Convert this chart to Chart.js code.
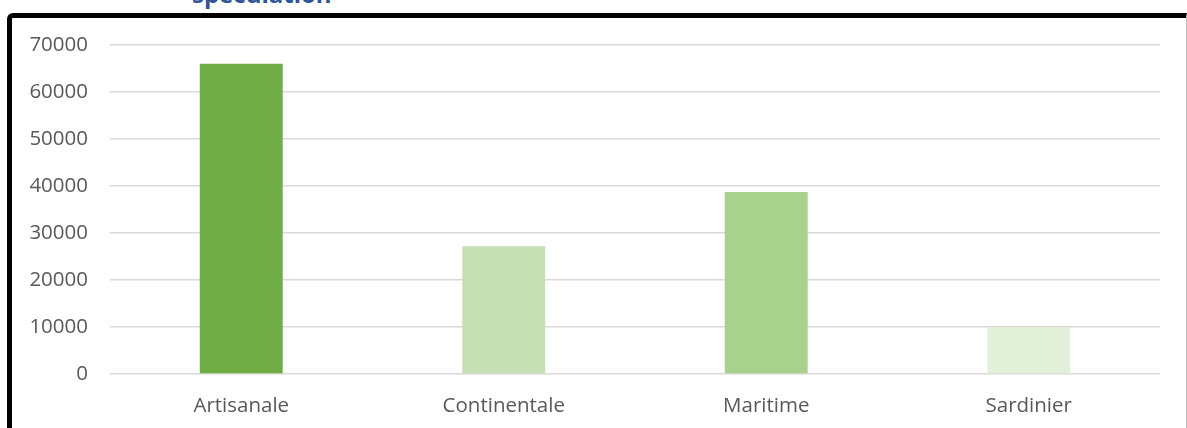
<!DOCTYPE html>
<html lang="fr">
<head>
  <meta charset="UTF-8">
  <title>Production par spéculation</title>
  <script src="https://cdn.jsdelivr.net/npm/chart.js"></script>
  <style>
    html, body {
      margin: 0;
      padding: 0;
      background: #fff;
      overflow: hidden;
    }
    .wrap {
      position: relative;
      width: 1187px;
      height: 428px;
    }
    .frame {
      position: absolute;
      left: 7px;
      top: 13px;
      width: 1174px;
      height: 430px;
      border-left: 5px solid #000;
      border-top: 5px solid #000;
      border-right: 1px solid #bfbfbf;
      border-top-left-radius: 6px;
      box-sizing: content-box;
    }
    .title {
      position: absolute;
      left: 192px;
      top: -18px;
      font-family: "Open Sans", sans-serif;
      font-weight: bold;
      font-size: 24px;
      line-height: 24px;
      color: #2f5597;
      white-space: nowrap;
    }
    canvas {
      position: absolute;
      left: 0;
      top: 0;
    }
  </style>
</head>
<body>
  <div class="wrap">
    <div class="frame"></div>
    <div class="title">spéculation</div>
    <canvas id="chart" width="1187" height="428"></canvas>
  </div>

  <script>
    const categories = ['Artisanale', 'Continentale', 'Maritime', 'Sardinier'];
    const values = [66000, 27200, 38700, 10000];
    const barColors = ['#70ad47', '#c5e0b4', '#a9d18e', '#e2f0d9'];

    const ctx = document.getElementById('chart').getContext('2d');

    new Chart(ctx, {
      type: 'bar',
      data: {
        labels: categories,
        datasets: [{
          data: values,
          backgroundColor: barColors,
          borderWidth: 0,
          categoryPercentage: 1,
          barPercentage: 0.316
        }]
      },
      options: {
        responsive: false,
        animation: false,
        layout: {
          padding: { left: 0, right: 27, top: 45, bottom: 0 }
        },
        plugins: {
          legend: { display: false },
          tooltip: { enabled: false }
        },
        scales: {
          x: {
            grid: { display: false },
            border: { display: false },
            ticks: {
              color: '#595959',
              font: { family: 'Open Sans', size: 20.5 },
              padding: 12
            },
            afterFit: (scale) => { scale.height = 54; }
          },
          y: {
            min: 0,
            max: 70000,
            grid: { color: '#d9d9d9', lineWidth: 1.5, drawTicks: false },
            border: { display: false },
            ticks: {
              stepSize: 10000,
              color: '#595959',
              font: { family: 'Open Sans', size: 20.5 },
              padding: 22,
              callback: (v) => String(v)
            },
            afterFit: (scale) => { scale.width = 110; }
          }
        }
      }
    });
  </script>
</body>
</html>
